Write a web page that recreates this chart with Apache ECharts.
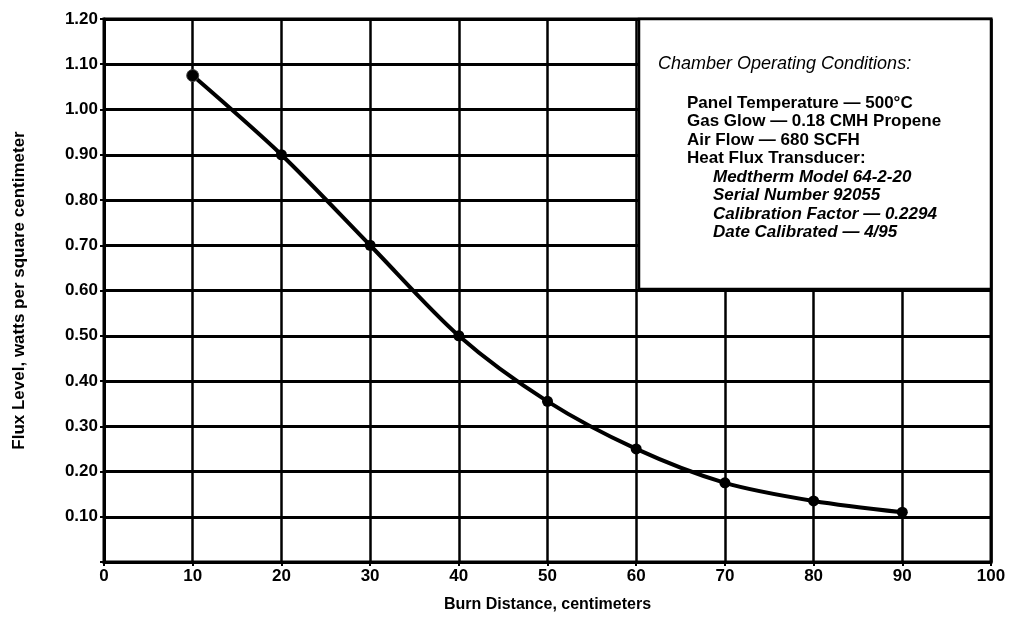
<!DOCTYPE html>
<html>
<head>
<meta charset="utf-8">
<script src="https://cdn.jsdelivr.net/npm/echarts@6/dist/echarts.min.js"></script>
<style>
html,body{margin:0;padding:0;background:#fff;}
#c{width:1010px;height:629px;}
</style>
</head>
<body>
<div id="c"></div>
<script>
var distances = [10, 20, 30, 40, 50, 60, 70, 80, 90];
var fluxValues = [1.075, 0.90, 0.70, 0.50, 0.355, 0.25, 0.175, 0.135, 0.11];
var xTitle = 'Burn Distance, centimeters';
var yTitle = 'Flux Level, watts per square centimeter';
var boxTitle = 'Chamber Operating Conditions:';
var boxLines = [
  'Panel Temperature \u2014 500\u00B0C',
  'Gas Glow \u2014 0.18 CMH Propene',
  'Air Flow \u2014 680 SCFH',
  'Heat Flux Transducer:'
];
var boxSubLines = [
  'Medtherm Model 64-2-20',
  'Serial Number 92055',
  'Calibration Factor \u2014 0.2294',
  'Date Calibrated \u2014 4/95'
];

var chart = echarts.init(document.getElementById('c'));
var pts = distances.map(function (d, i) {
  var p = { value: [d, fluxValues[i]] };
  if (i === 0) {
    p.symbolSize = 12;
    p.itemStyle = { color: '#000', borderColor: '#444', borderWidth: 1 };
  }
  return p;
});

var FONT = '"Liberation Sans", Arial, sans-serif';
var graphics = [{
  type: 'rect',
  shape: { x: 639, y: 19, width: 352, height: 270 },
  style: { fill: '#fff', stroke: '#000', lineWidth: 2.5 },
  z: 10
}, {
  type: 'text', x: 658, y: 64, z: 11,
  style: { text: boxTitle, font: 'italic 18px ' + FONT, fill: '#000', verticalAlign: 'middle' }
}];
var y0 = 103, dy = 18.5;
boxLines.forEach(function (t, i) {
  graphics.push({
    type: 'text', x: 687, y: y0 + i * dy, z: 11,
    style: { text: t, font: 'bold 17px ' + FONT, fill: '#000', verticalAlign: 'middle' }
  });
});
boxSubLines.forEach(function (t, i) {
  graphics.push({
    type: 'text', x: 713, y: y0 + (i + 4) * dy, z: 11,
    style: { text: t, font: 'italic bold 17px ' + FONT, fill: '#000', verticalAlign: 'middle' }
  });
});

chart.setOption({
  animation: false,
  backgroundColor: '#fff',
  grid: { left: 104, right: 19, top: 19, bottom: 67, show: true, borderColor: '#000', borderWidth: 3, backgroundColor: 'transparent' },
  xAxis: {
    type: 'value', min: 0, max: 100, interval: 10,
    name: xTitle, nameLocation: 'middle', nameGap: 35,
    nameTextStyle: { color: '#000', fontFamily: FONT, fontWeight: 'bold', fontSize: 16 },
    axisLine: { show: true, lineStyle: { color: '#000', width: 3 } },
    axisTick: { show: true, length: 4, lineStyle: { color: '#000', width: 2 } },
    axisLabel: { color: '#000', fontFamily: FONT, fontWeight: 'bold', fontSize: 17, margin: 6 },
    splitLine: { show: true, lineStyle: { color: '#000', width: 2.5 } }
  },
  yAxis: {
    type: 'value', min: 0, max: 1.2, interval: 0.1,
    name: yTitle, nameLocation: 'middle', nameGap: 76, nameRotate: 90,
    nameTextStyle: { color: '#000', fontFamily: FONT, fontWeight: 'bold', fontSize: 17 },
    axisLine: { show: true, lineStyle: { color: '#000', width: 3 } },
    axisTick: { show: true, length: 4, lineStyle: { color: '#000', width: 2 } },
    axisLabel: {
      color: '#000', fontFamily: FONT, fontWeight: 'bold', fontSize: 17, margin: 6,
      formatter: function (v) { return v === 0 ? '' : v.toFixed(2); }
    },
    splitLine: { show: true, lineStyle: { color: '#000', width: 3 } }
  },
  series: [{
    type: 'line',
    data: pts,
    smooth: 0.3,
    symbol: 'circle',
    symbolSize: 11,
    lineStyle: { color: '#000', width: 4 },
    itemStyle: { color: '#000' },
    z: 5
  }],
  graphic: graphics
});
</script>
</body>
</html>
